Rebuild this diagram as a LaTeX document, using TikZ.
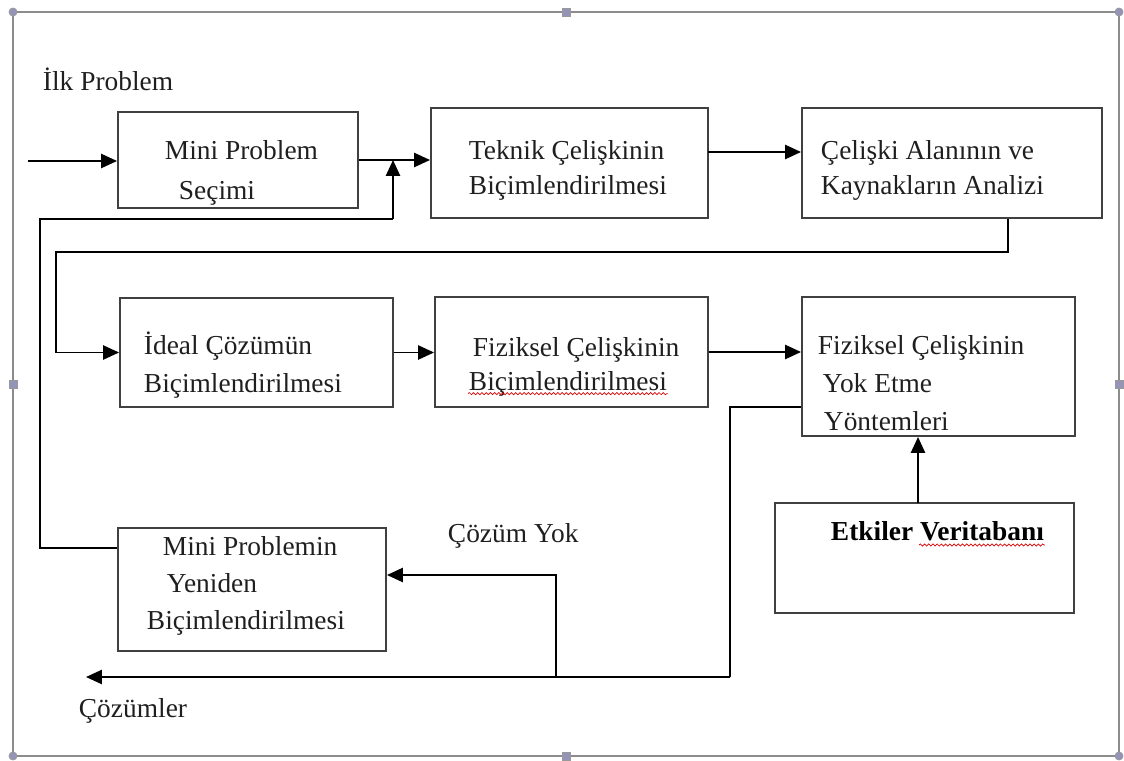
\documentclass[tikz,border=0pt]{standalone}
\usepackage{fontspec}
\setmainfont{Liberation Serif}
\usetikzlibrary{arrows.meta,decorations.pathmorphing}

\begin{document}
\begin{tikzpicture}[x=0.02cm,y=-0.02cm,line width=1.1pt]
    \tikzstyle{blk}=[draw=black!75,line width=1.1pt,inner sep=0pt]
    \tikzstyle{txt}=[anchor=west,inner sep=0pt,text=black!88,font=\fontsize{15.6}{18}\selectfont,text height=11pt,text depth=3pt]
    \tikzstyle{arr}=[-{Triangle[length=9pt,width=8pt]}]
    \tikzstyle{handle}=[draw=black!40,fill=blue!20!gray!70,line width=0.4pt]
    \tikzstyle{squig}=[red!85!black,line width=0.4pt,decorate,decoration={snake,amplitude=0.6pt,segment length=2.4pt}]

    \useasboundingbox (0,0) rectangle (1124,760);

    % frame and its handles
    \draw[gray!90,line width=1.4pt] (13,12) rectangle (1119,756);
    \foreach \x/\y in {13/12, 1119/12, 13/756, 1119/756}
        \draw[handle] (\x,\y) circle (2.3pt);
    \foreach \x/\y in {566/12, 566/756, 13/384, 1119/384}
        \draw[handle] (\x-4,\y-4) rectangle (\x+4,\y+4);

    % blocks
    \foreach \name/\cx/\cy/\w/\h in {mps/238/160/240/96, tc/569.5/163/277/110, cak/952/163/300/110,
                                     icb/256.5/352.5/273/109, fcb/571.5/352/273/110, fcy/938.5/366.5/273/139,
                                     ev/924.5/558/299/110, mpy/252/589.5/268/123}
        \node[blk,minimum width=\w*0.02cm,minimum height=\h*0.02cm] (\name) at (\cx,\cy) {};

    % texts
    \node[txt] (lbl-in) at (42,83) {İlk Problem};
    \node[txt] (mps-1) at (164,152) {Mini Problem};
    \node[txt] (mps-2) at (178,192) {Seçimi};
    \node[txt] (tc-1) at (468,152) {Teknik Çelişkinin};
    \node[txt] (tc-2) at (468,187) {Biçimlendirilmesi};
    \node[txt] (cak-1) at (820,152) {Çelişki Alanının ve};
    \node[txt] (cak-2) at (820,187) {Kaynakların Analizi};
    \node[txt] (icb-1) at (143,347) {İdeal Çözümün};
    \node[txt] (icb-2) at (143,385) {Biçimlendirilmesi};
    \node[txt] (fcb-1) at (472,349) {Fiziksel Çelişkinin};
    \node[txt] (fcb-2) at (468,383) {Biçimlendirilmesi};
    \node[txt] (fcy-1) at (817,347) {Fiziksel Çelişkinin};
    \node[txt] (fcy-2) at (822,385) {Yok Etme};
    \node[txt] (fcy-3) at (823,423) {Yöntemleri};
    \node[txt,font=\fontsize{15.6}{18}\selectfont\bfseries,text=black] (ev-1) at (830,533) {Etkiler Veritabanı};
    \node[txt] (mpy-1) at (162,548) {Mini Problemin};
    \node[txt] (mpy-2) at (166,585) {Yeniden};
    \node[txt] (mpy-3) at (146,622) {Biçimlendirilmesi};
    \node[txt] (lbl-no) at (447,535) {Çözüm Yok};
    \node[txt] (lbl-sol) at (78,710) {Çözümler};

    % spell-check marks
    \coordinate (vstart) at (919,545);
    \draw[squig] ([yshift=1.5pt]fcb-2.south west) -- ([yshift=1.5pt]fcb-2.south east);
    \draw[squig] (vstart) -- (vstart -| ev-1.east);

    % connectors
    \coordinate (in) at (28,161);
    \draw[arr] (in) -- (in -| mps.west);
    \draw[arr] (mps.east) -- (mps.east -| tc.west);

    \coordinate (fb1) at (40,548);
    \coordinate (fb2) at (393,219);
    \draw (mpy.west |- fb1) -- (fb1) |- (fb2);
    \draw[arr] (fb2) -- (fb2 |- mps.east);

    \coordinate (r1) at (708,152);
    \draw[arr] (r1) -- (r1 -| cak.west);

    \coordinate (d1) at (1008,252);
    \coordinate (d2) at (56,252);
    \draw[arr] (d1 |- cak.south) -- (d1) -- (d2) |- (icb.west);
    \draw[arr] (icb.east) -- (icb.east -| fcb.west);
    \draw[arr] (fcb.east) -- (fcb.east -| fcy.west);

    \coordinate (e1) at (918,503);
    \draw[arr] (e1) -- (e1 |- fcy.south);

    \coordinate (o1) at (730,407);
    \coordinate (o2) at (730,677);
    \coordinate (sol) at (86,677);
    \coordinate (o3) at (556,677);
    \coordinate (o4) at (556,575);
    \draw (o1 -| fcy.west) -- (o1) -- (o2);
    \draw[arr] (o2) -- (sol);
    \draw[arr] (o3) -- (o4) -- (o4 -| mpy.east);
\end{tikzpicture}
\end{document}
